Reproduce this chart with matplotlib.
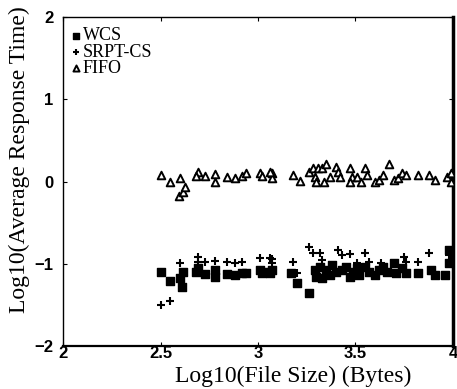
import matplotlib.pyplot as plt

# FIFO (open triangles)
fifo_x = [2.50, 2.55, 2.60, 2.595, 2.615, 2.625, 2.69, 2.68, 2.73, 2.78, 2.78, 2.84, 2.88, 2.92,
          2.94, 3.01, 3.02, 3.07, 3.07, 3.06, 3.18, 3.215, 3.26, 3.28, 3.29, 3.31, 3.30, 3.33,
          3.34, 3.35, 3.37, 3.40, 3.41, 3.42, 3.47, 3.48, 3.47, 3.51, 3.53, 3.55, 3.56, 3.60,
          3.62, 3.64, 3.67, 3.70, 3.72, 3.74, 3.76, 3.82, 3.88, 3.91, 3.97, 3.99, 3.99]
fifo_y = [0.085, -0.01, 0.04, -0.17, -0.12, -0.07, 0.12, 0.07, 0.07, 0.09, -0.01, 0.06, 0.05, 0.07,
          0.10, 0.11, 0.07, 0.11, 0.05, 0.12, 0.085, 0.01, 0.12, 0.17, 0.06, 0.17, -0.01, 0.17,
          -0.01, 0.21, 0.06, 0.18, 0.12, 0.06, 0.17, 0.06, 0.00, 0.06, 0.00, 0.17, 0.085, -0.01,
          0.02, 0.085, 0.21, 0.02, 0.05, 0.11, 0.085, 0.085, 0.085, 0.02, 0.06, 0.11, 0.00]

# WCS (filled squares)
wcs_x = [2.50, 2.55, 2.60, 2.61, 2.615, 2.68, 2.69, 2.73, 2.78, 2.78, 2.84, 2.88, 2.92, 2.94,
         3.01, 3.02, 3.06, 3.07, 3.03, 3.17, 3.20, 3.26, 3.29, 3.30, 3.32, 3.33, 3.35, 3.37,
         3.38, 3.40, 3.43, 3.45, 3.47, 3.49, 3.51, 3.52, 3.55, 3.57, 3.60, 3.62, 3.64, 3.66,
         3.70, 3.71, 3.74, 3.76, 3.82, 3.89, 3.91, 3.96, 3.98, 3.98]
wcs_y = [-1.10, -1.21, -1.17, -1.28, -1.10, -1.10, -1.05, -1.12, -1.07, -1.16, -1.12, -1.13, -1.11, -1.11,
         -1.07, -1.11, -1.11, -1.07, -1.10, -1.11, -1.23, -1.35, -1.07, -1.16, -1.04, -1.17, -1.07, -1.13,
         -1.01, -1.10, -1.07, -1.04, -1.16, -1.10, -1.05, -1.13, -1.04, -1.10, -1.13, -1.07, -1.04, -1.10,
         -0.99, -1.11, -1.05, -1.11, -1.11, -1.07, -1.13, -1.13, -0.99, -0.83]

# SRPT-CS (plus)
srpt_x = [2.50, 2.55, 2.60, 2.69, 2.69, 2.73, 2.78, 2.84, 2.88, 2.92, 3.01, 3.07, 3.07, 3.06,
          3.18, 3.20, 3.26, 3.28, 3.32, 3.33, 3.41, 3.43, 3.47, 3.51, 3.55, 3.57, 3.63, 3.75,
          3.76, 3.82, 3.88, 3.98, 3.99]
srpt_y = [-1.50, -1.45, -0.99, -0.91, -0.98, -0.98, -0.96, -0.98, -0.99, -0.98, -0.93, -0.94, -0.99, -0.93,
          -0.98, -1.11, -0.80, -0.87, -0.87, -0.95, -0.83, -0.89, -0.88, -0.99, -0.87, -0.98, -0.99, -0.91,
          -0.98, -0.98, -0.87, -0.89, -0.95]

xticks = [2, 2.5, 3, 3.5, 4]
xtick_labels = ['2', '2.5', '3', '3.5', '4']
yticks = [-2, -1, 0, 1, 2]

fig = plt.figure(figsize=(4.57, 3.89), dpi=100)
ax = fig.add_axes([0.138, 0.11, 0.853, 0.846])

ax.scatter(wcs_x, wcs_y, marker='s', s=30, c='black', label='WCS', zorder=3)
ax.scatter(srpt_x, srpt_y, marker='+', s=35, c='black', linewidths=1.5, label='SRPT-CS', zorder=3)
ax.scatter(fifo_x, fifo_y, marker='^', s=30, facecolors='white', edgecolors='black',
           linewidths=1.4, label='FIFO', zorder=3)

ax.set_xlim(2, 4)
ax.set_ylim(-2, 2)
ax.set_xticks(xticks)
ax.set_xticklabels(xtick_labels)
ax.set_yticks(yticks)
for lab in ax.get_xticklabels() + ax.get_yticklabels():
    lab.set_fontweight('bold')
    lab.set_fontsize(12)
    lab.set_family('Liberation Sans')
ax.tick_params(direction='in', length=3, top=True, right=True)
ax.tick_params(axis='x', pad=0)
ax.tick_params(axis='y', pad=7)
for s in ax.spines.values():
    s.set_linewidth(1.0)
ax.spines['bottom'].set_linewidth(1.6)
ax.spines['right'].set_linewidth(2.5)

# axis titles placed as in the reference (x title right of centre)
fig.text(293 / 457, 1 - 387 / 389, 'Log10(File Size) (Bytes)', family='Liberation Serif',
         fontsize=17, ha='center', va='bottom')
fig.text(19 / 457, 1 - 313 / 389, 'Log10(Average Response Time)', family='Liberation Serif',
         fontsize=17, ha='center', va='bottom', rotation=90)

leg = ax.legend(loc='upper left', bbox_to_anchor=(0.0, 0.985), frameon=False,
                prop={'family': 'Liberation Serif', 'size': 13},
                handletextpad=0.0, labelspacing=-0.05, borderaxespad=0.0, handlelength=0.8,
                markerscale=0.8, borderpad=0.3)

fig.savefig('out.png', dpi=100)
